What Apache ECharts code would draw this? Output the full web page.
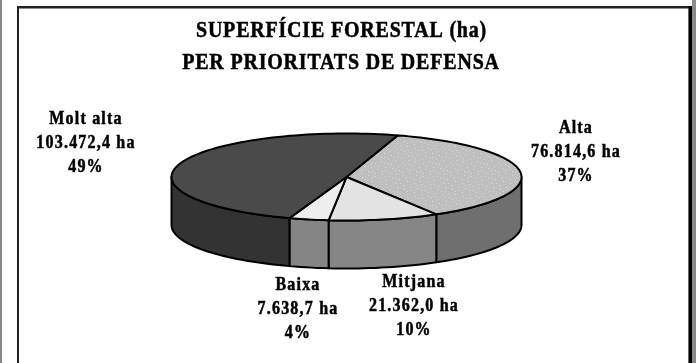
<!DOCTYPE html>
<html><head><meta charset="utf-8">
<style>html,body{margin:0;padding:0;background:#fff}#c{width:696px;height:363px}</style>
<script src="https://cdn.jsdelivr.net/npm/echarts@6/dist/echarts.min.js"></script>
</head><body><div id="c"></div>
<script>
var categories = ['Alta', 'Mitjana', 'Baixa', 'Molt alta'];
var hectares = [76814.6, 21362.0, 7638.7, 103472.4];
var haLabels = ['76.814,6 ha', '21.362,0 ha', '7.638,7 ha', '103.472,4 ha'];
var pctLabels = ['37%', '10%', '4%', '49%'];
var titleLines = ['SUPERFÍCIE FORESTAL (ha)', 'PER PRIORITATS DE DEFENSA'];

var topColors = ['#bfbfbf', '#e3e3e3', '#eeeeee', '#4a4a4a'];
var sideColors = ['#6f6f6f', '#868686', '#858585', '#333333'];
var labelAnchor = [[576, 128], [414, 282], [298, 285], [86, 119]];
var geo = {cx: 346.5, cy: 177, rx: 175, ry: 43.5, depth: 48, start: 17};
var serif = '"Liberation Serif","Times New Roman",serif';

// tracked-out lettering of the original
function tracked(base) {
  return function (s, x, y, m) {
    this.letterSpacing = parseFloat((this.font.match(/([\d.]+)px/) || [0, 0])[1]) > 18 ? '0.8px' : '1.2px';
    return m === undefined ? base.call(this, s, x, y) : base.call(this, s, x, y, m);
  };
}
CanvasRenderingContext2D.prototype.fillText = tracked(CanvasRenderingContext2D.prototype.fillText);
CanvasRenderingContext2D.prototype.strokeText = tracked(CanvasRenderingContext2D.prototype.strokeText);

// speckled texture of the Alta face
var tile = document.createElement('canvas');
tile.width = tile.height = 48;
var tctx = tile.getContext('2d');
tctx.fillStyle = topColors[0];
tctx.fillRect(0, 0, 48, 48);
tctx.fillStyle = '#d8d8d8';
for (var d = 1; d <= 110; d++) {
  tctx.fillRect(Math.floor(48 * ((d * 0.75488) % 1)), Math.floor(48 * ((d * 0.56984) % 1)), 1, 1);
}
var textures = [{image: tile, repeat: 'repeat'}, null, null, null];

var total = hectares.reduce(function (a, b) { return a + b; }, 0);
function pt(deg, dy) {
  var r = deg * Math.PI / 180;
  return [geo.cx + geo.rx * Math.sin(r), geo.cy - geo.ry * Math.cos(r) + (dy || 0)];
}
function arc(a0, a1, dy) {
  var out = [], n = Math.max(2, Math.ceil(Math.abs(a1 - a0) / 2));
  for (var i = 0; i <= n; i++) out.push(pt(a0 + (a1 - a0) * i / n, dy));
  return out;
}
function txt(x, y, s, size) {
  return {type: 'text', x: x, y: y, scaleY: 1.12, silent: true, style: {
    x: 0, y: 0, text: s, fill: '#000', stroke: '#000', lineWidth: 0.45, align: 'center', verticalAlign: 'middle',
    font: 'bold ' + size + 'px ' + serif}};
}
var line = {stroke: '#000', lineWidth: 2, lineJoin: 'round'};
function renderSlice(params, api) {
  var i = params.dataIndex, before = 0;
  for (var k = 0; k < i; k++) before += hectares[k];
  var a0 = geo.start + before / total * 360;
  var a1 = a0 + api.value(1) / total * 360;
  var kids = [];
  var s0 = Math.max(a0, 90), s1 = Math.min(a1, 270);
  if (s1 > s0) {
    var upper = arc(s0, s1, 0), lower = arc(s1, s0, geo.depth);
    kids.push({type: 'polygon', shape: {points: upper.concat(lower)},
      style: Object.assign({fill: sideColors[i]}, line)});
  }
  kids.push({type: 'polygon', shape: {points: [[geo.cx, geo.cy]].concat(arc(a0, a1, 0))},
    style: Object.assign({fill: textures[i] || topColors[i]}, line)});
  var an = labelAnchor[i];
  kids.push(txt(an[0], an[1], categories[i], 16));
  kids.push(txt(an[0], an[1] + 24, haLabels[i], 16));
  kids.push(txt(an[0], an[1] + 48, pctLabels[i], 16));
  return {type: 'group', children: kids};
}
var chart = echarts.init(document.getElementById('c'), null, {renderer: 'canvas'});
chart.setOption({
  animation: false,
  backgroundColor: '#fff',
  graphic: [
    {type: 'rect', shape: {x: 0, y: 0, width: 2, height: 363}, style: {fill: '#8a8a8a'}},
    {type: 'rect', shape: {x: 692, y: 0, width: 4, height: 363}, style: {fill: '#8a8a8a'}},
    {type: 'rect', shape: {x: 17, y: 6, width: 2, height: 357}, style: {fill: '#222'}},
    {type: 'rect', shape: {x: 17, y: 6, width: 675, height: 2.4}, style: {fill: '#222'}},
    {type: 'rect', shape: {x: 688.4, y: 6, width: 3.6, height: 357}, style: {fill: '#000'}},
    txt(341.5, 31, titleLines[0], 20),
    txt(341, 63, titleLines[1], 20)
  ],
  series: [{
    type: 'custom', coordinateSystem: 'none', renderItem: renderSlice, silent: true,
    data: categories.map(function (c, i) { return [i, hectares[i]]; })
  }]
});
</script></body></html>
